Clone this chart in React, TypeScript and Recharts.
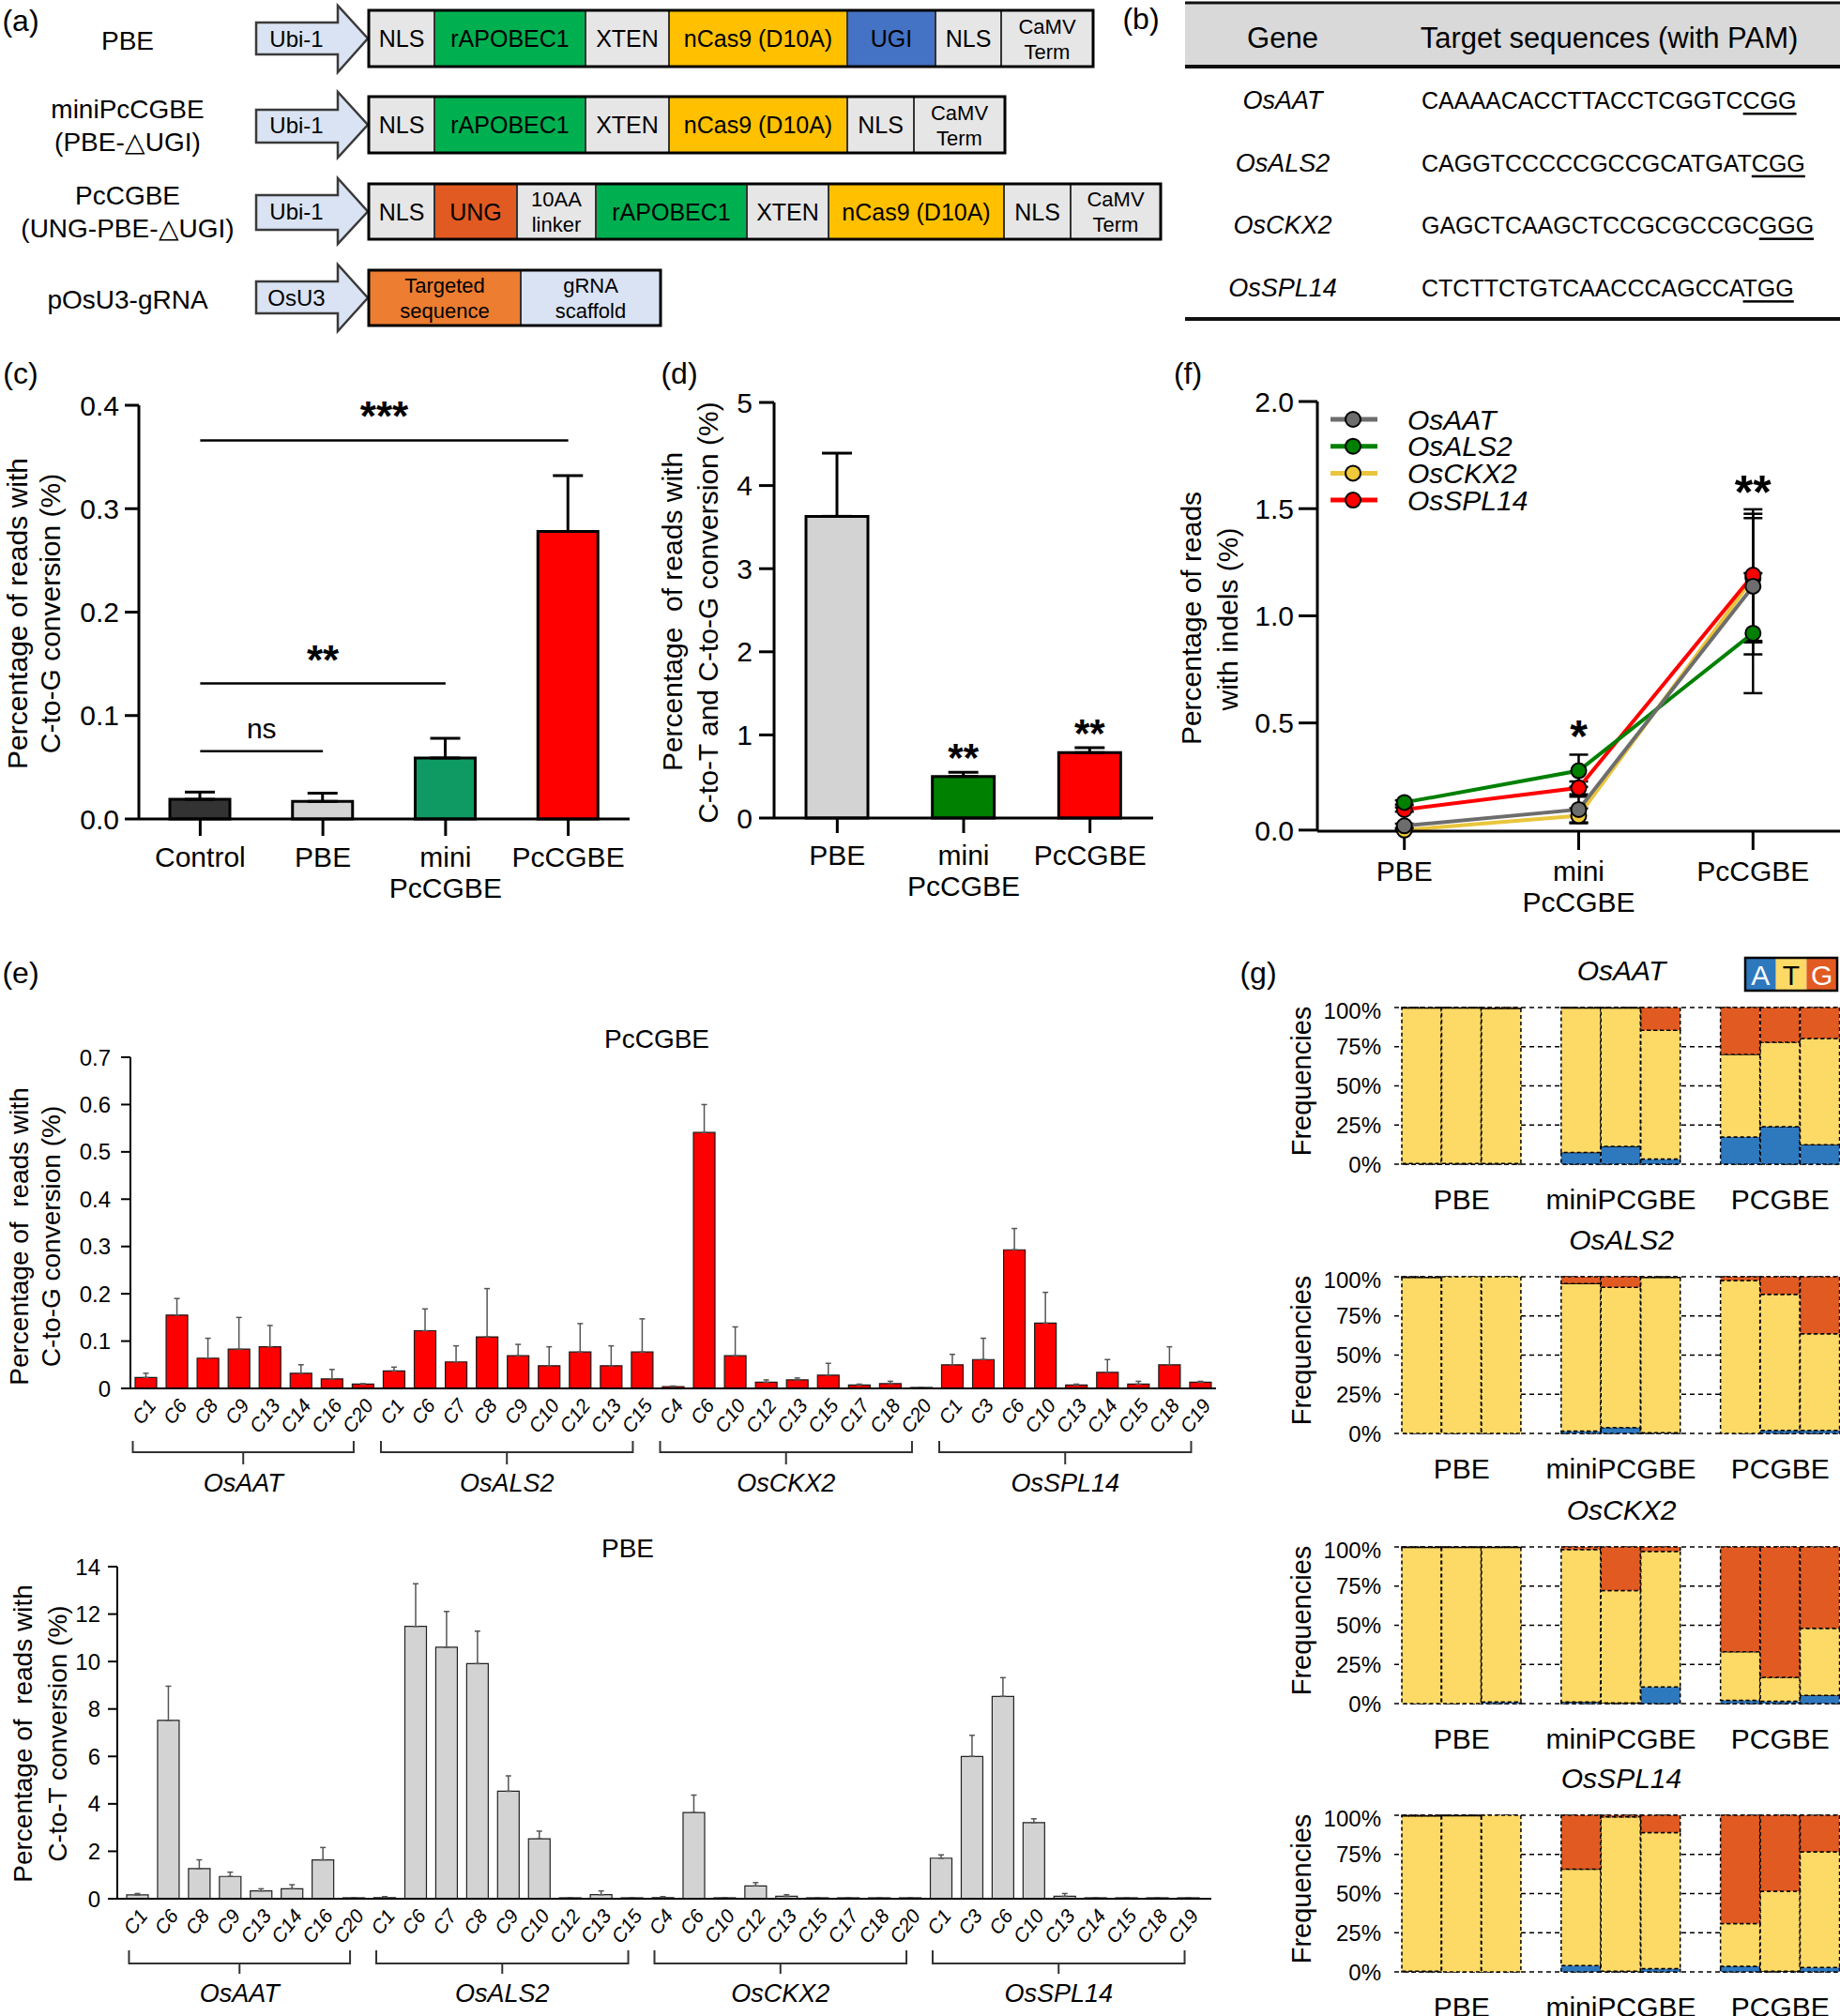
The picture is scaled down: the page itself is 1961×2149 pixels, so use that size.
import React from 'react';
import {
  BarChart, Bar, LineChart, Line, XAxis, YAxis, CartesianGrid, ErrorBar, Cell,
  ReferenceLine, ReferenceDot, LabelList, Legend,
} from 'recharts';

const FONT = 'Arial, "Liberation Sans", Helvetica, sans-serif';

// (c) C-to-G conversion, all targets pooled
const cGroups = ['Control', 'PBE', 'mini PcCGBE', 'PcCGBE'];
const cMeans = [0.019, 0.017, 0.059, 0.278];
const cSD = [0.007, 0.008, 0.019, 0.054];
const cColors = ['#333333', '#d4d4d4', '#0f9a63', '#ff0000'];

// (d) C-to-T + C-to-G
const dGroups = ['PBE', 'mini PcCGBE', 'PcCGBE'];
const dMeans = [3.63, 0.5, 0.786];
const dSD = [0.76, 0.05, 0.06];
const dSig = ['', '**', '**'];
const dColors = ['#d3d3d3', '#008000', '#ff0000'];

// (f) indels
const fGroups = ['PBE', 'mini PcCGBE', 'PcCGBE'];
const fAAT = [0.02, 0.096, 1.138];
const fAATErr = [0.01, 0.06, 0.318];
const fALS2 = [0.129, 0.277, 0.919];
const fALS2Err = [0.01, 0.075, 0.28];
const fCKX2 = [0.0, 0.067, 1.176];
const fCKX2Err = [0.005, 0.035, 0.3];
const fSPL14 = [0.096, 0.197, 1.19];
const fSPL14Err = [0.01, 0.03, 0.307];

// (e) per-site editing
const eGenes = ['OsAAT', 'OsALS2', 'OsCKX2', 'OsSPL14'];
const eSitesAAT = ['C1', 'C6', 'C8', 'C9', 'C13', 'C14', 'C16', 'C20'];
const eSitesALS2 = ['C1', 'C6', 'C7', 'C8', 'C9', 'C10', 'C12', 'C13', 'C15'];
const eSitesCKX2 = ['C4', 'C6', 'C10', 'C12', 'C13', 'C15', 'C17', 'C18', 'C20'];
const eSitesSPL14 = ['C1', 'C3', 'C6', 'C10', 'C13', 'C14', 'C15', 'C18', 'C19'];

const eCgAAT = [0.023, 0.155, 0.064, 0.083, 0.088, 0.032, 0.02, 0.009];
const eCgAATErr = [0.009, 0.035, 0.042, 0.067, 0.045, 0.018, 0.02, 0.001];
const eCgALS2 = [0.037, 0.122, 0.056, 0.109, 0.069, 0.048, 0.077, 0.048, 0.077];
const eCgALS2Err = [0.008, 0.046, 0.034, 0.102, 0.024, 0.04, 0.06, 0.042, 0.07];
const eCgCKX2 = [0.004, 0.541, 0.069, 0.013, 0.018, 0.028, 0.007, 0.01, 0.002];
const eCgCKX2Err = [0.001, 0.059, 0.061, 0.005, 0.004, 0.025, 0.002, 0.005, 0];
const eCgSPL14 = [0.05, 0.061, 0.293, 0.138, 0.007, 0.034, 0.009, 0.05, 0.013];
const eCgSPL14Err = [0.022, 0.045, 0.045, 0.065, 0.002, 0.027, 0.006, 0.038, 0.002];

const eCtAAT = [0.16, 7.52, 1.27, 0.94, 0.33, 0.42, 1.64, 0.04];
const eCtAATErr = [0.06, 1.44, 0.37, 0.18, 0.09, 0.17, 0.52, 0];
const eCtALS2 = [0.05, 11.48, 10.6, 9.91, 4.53, 2.53, 0.04, 0.17, 0.04];
const eCtALS2Err = [0.04, 1.8, 1.51, 1.37, 0.65, 0.32, 0, 0.16, 0];
const eCtCKX2 = [0.05, 3.63, 0.04, 0.54, 0.1, 0.04, 0.04, 0.04, 0.04];
const eCtCKX2Err = [0.04, 0.74, 0, 0.14, 0.07, 0, 0, 0, 0];
const eCtSPL14 = [1.71, 6.0, 8.53, 3.21, 0.1, 0.04, 0.04, 0.04, 0.04];
const eCtSPL14Err = [0.14, 0.89, 0.79, 0.16, 0.12, 0, 0, 0, 0];

const eTopTicks = [0, 0.1, 0.2, 0.3, 0.4, 0.5, 0.6, 0.7];
const eBottomTicks = [0, 2, 4, 6, 8, 10, 12, 14];

// (g) allele frequencies, bars: PBE x3, miniPCGBE x3, PCGBE x3
const gEditors = ['PBE', 'miniPCGBE', 'PCGBE'];
const gAAT_A = [0.5, 0.5, 0.5, 7.5, 11.4, 3.3, 17.4, 24, 12.5];
const gAAT_T = [99.2, 99.2, 98.9, 92.2, 88.3, 82.2, 52.7, 53.8, 67.7];
const gAAT_G = [0.3, 0.3, 0.6, 0.3, 0.3, 14.5, 29.9, 22.2, 19.8];
const gALS2_A = [0, 0, 0, 1.5, 3.8, 0.5, 0, 2, 2];
const gALS2_T = [99.5, 100, 100, 94.1, 89.4, 99, 97.6, 86.7, 61.6];
const gALS2_G = [0.5, 0, 0, 4.4, 6.8, 0.5, 2.4, 11.3, 36.4];
const gCKX2_A = [0, 0, 1, 1, 0.5, 10.7, 2.1, 1.5, 5.3];
const gCKX2_T = [99.7, 99.7, 98.7, 97.3, 71.7, 86.5, 31, 15.2, 42.8];
const gCKX2_G = [0.3, 0.3, 0.3, 1.7, 27.8, 2.8, 66.9, 83.3, 51.9];
const gSPL14_A = [0.5, 0, 0, 4, 0.5, 2.1, 3.6, 0.5, 2.8];
const gSPL14_T = [99, 99.7, 100, 61.5, 98.4, 86.8, 27.3, 51, 73.8];
const gSPL14_G = [0.5, 0.3, 0, 34.5, 1.1, 11.1, 69.1, 48.5, 23.4];

const A_COLOR = '#2e78be';
const T_COLOR = '#fdd966';
const G_COLOR = '#e05a22';

const cData = cGroups.map((name, i) => ({ name, value: cMeans[i], err: [0, cSD[i]] }));
const dData = dGroups.map((name, i) => ({ name, value: dMeans[i], err: [0, dSD[i]], sig: dSig[i] }));
const fData = fGroups.map((name, i) => ({
  name,
  aat: fAAT[i], aatErr: fAATErr[i],
  als2: fALS2[i], als2Err: fALS2Err[i],
  ckx2: fCKX2[i], ckx2Err: fCKX2Err[i],
  spl14: fSPL14[i], spl14Err: fSPL14Err[i],
}));

const fSeries = [
  { key: 'aat', name: 'OsAAT', line: '#6d6d6d', fill: '#6d6d6d' },
  { key: 'als2', name: 'OsALS2', line: '#008000', fill: '#008000' },
  { key: 'ckx2', name: 'OsCKX2', line: '#eac53c', fill: '#f0c93a' },
  { key: 'spl14', name: 'OsSPL14', line: '#ff0000', fill: '#ff0000' },
];
const fDrawOrder = ['ckx2', 'spl14', 'als2', 'aat'];

const eSites = [eSitesAAT, eSitesALS2, eSitesCKX2, eSitesSPL14];
function buildE(vals: number[][], errs: number[][]) {
  const rows: any[] = [];
  eGenes.forEach((g, gi) => {
    eSites[gi].forEach((s, si) => {
      rows.push({ key: `${g}-${s}`, value: vals[gi][si], err: [0, errs[gi][si]] });
    });
  });
  return rows;
}
const eTopData = buildE([eCgAAT, eCgALS2, eCgCKX2, eCgSPL14], [eCgAATErr, eCgALS2Err, eCgCKX2Err, eCgSPL14Err]);
const eBottomData = buildE([eCtAAT, eCtALS2, eCtCKX2, eCtSPL14], [eCtAATErr, eCtALS2Err, eCtCKX2Err, eCtSPL14Err]);

function gRows(A: number[], T: number[], G: number[]) {
  const rows: any[] = [];
  gEditors.forEach((ed, ei) => {
    [0, 1, 2].forEach((k) => {
      const i = ei * 3 + k;
      rows.push({ slot: `${ed}-${k}`, A: A[i], T: T[i], G: G[i] });
    });
    if (ei < 2) rows.push({ slot: `gap-${ei}`, A: 0, T: 0, G: 0 });
  });
  return rows;
}
const gPanels = [
  { gene: 'OsAAT', rows: gRows(gAAT_A, gAAT_T, gAAT_G), top: 1073.5 },
  { gene: 'OsALS2', rows: gRows(gALS2_A, gALS2_T, gALS2_G), top: 1360.5 },
  { gene: 'OsCKX2', rows: gRows(gCKX2_A, gCKX2_T, gCKX2_G), top: 1648.5 },
  { gene: 'OsSPL14', rows: gRows(gSPL14_A, gSPL14_T, gSPL14_G), top: 1934.5 },
];

function StackedTick({ x, y, payload, off, size }: any) {
  const words = String(payload.value).split(' ');
  return (
    <g>
      {words.map((w, i) => (
        <text key={i} x={x} y={y + off + i * 33} textAnchor="middle" dominantBaseline="central" fontSize={size} fill="#000">{w}</text>
      ))}
    </g>
  );
}

function SiteTick({ x, y, payload }: any) {
  const site = String(payload.value).split('-')[1];
  const tx = x + 6;
  const ty = y + 14;
  return (
    <text x={tx} y={ty} transform={`rotate(-52 ${tx} ${ty})`} textAnchor="end" dominantBaseline="central"
      fontSize={21} fontStyle="italic" fill="#000">{site}</text>
  );
}

function GroupTick({ x, y, payload }: any) {
  const [ed, k] = String(payload.value).split('-');
  if (ed === 'gap' || k !== '1') return <g />;
  return <text x={x} y={y + 37} textAnchor="middle" dominantBaseline="central" fontSize={30} fill="#000">{ed}</text>;
}

function FLegend() {
  return (
    <svg width={280} height={130}>
      {fSeries.map((s, i) => (
        <g key={s.key} transform={`translate(0, ${20 + i * 28.7})`}>
          <line x1={0} x2={50} y1={0} y2={0} stroke={s.line} strokeWidth={5} />
          <circle cx={24} cy={0} r={8} fill={s.fill} stroke="#000" strokeWidth={2} />
          <text x={82} y={0} dominantBaseline="central" fontSize={30} fontStyle="italic" fill="#000">{s.name}</text>
        </g>
      ))}
    </svg>
  );
}

const vText = (x: number, y: number, text: string, size: number, extra: any = {}) => (
  <text key={`${x}-${y}-${text}`} x={x} y={y} transform={`rotate(-90 ${x} ${y})`} textAnchor="middle"
    dominantBaseline="central" fontSize={size} fill="#000" style={{ whiteSpace: 'pre' }} {...extra}>{text}</text>
);

const GREY = '#e7e6e6';
const aRows = [
  {
    name: ['PBE'], promoter: 'Ubi-1', box: [11, 71], body: [24, 58], head: [6, 77],
    parts: [
      { text: ['NLS'], fill: GREY, x: [393, 463] },
      { text: ['rAPOBEC1'], fill: '#00b050', x: [463, 624] },
      { text: ['XTEN'], fill: GREY, x: [624, 713] },
      { text: ['nCas9 (D10A)'], fill: '#ffc000', x: [713, 903] },
      { text: ['UGI'], fill: '#4472c4', x: [903, 997] },
      { text: ['NLS'], fill: GREY, x: [997, 1067] },
      { text: ['CaMV', 'Term'], fill: GREY, x: [1067, 1165] },
    ],
  },
  {
    name: ['miniPcCGBE', '(PBE-\u25B3UGI)'], promoter: 'Ubi-1', box: [103, 163], body: [117, 152], head: [98, 168],
    parts: [
      { text: ['NLS'], fill: GREY, x: [393, 463] },
      { text: ['rAPOBEC1'], fill: '#00b050', x: [463, 624] },
      { text: ['XTEN'], fill: GREY, x: [624, 713] },
      { text: ['nCas9 (D10A)'], fill: '#ffc000', x: [713, 903] },
      { text: ['NLS'], fill: GREY, x: [903, 974] },
      { text: ['CaMV', 'Term'], fill: GREY, x: [974, 1071] },
    ],
  },
  {
    name: ['PcCGBE', '(UNG-PBE-\u25B3UGI)'], promoter: 'Ubi-1', box: [196, 255], body: [208, 245], head: [190, 260],
    parts: [
      { text: ['NLS'], fill: GREY, x: [393, 463] },
      { text: ['UNG'], fill: '#e15a22', x: [463, 551] },
      { text: ['10AA', 'linker'], fill: GREY, x: [551, 635] },
      { text: ['rAPOBEC1'], fill: '#00b050', x: [635, 796] },
      { text: ['XTEN'], fill: GREY, x: [796, 883] },
      { text: ['nCas9 (D10A)'], fill: '#ffc000', x: [883, 1070] },
      { text: ['NLS'], fill: GREY, x: [1070, 1141] },
      { text: ['CaMV', 'Term'], fill: GREY, x: [1141, 1237] },
    ],
  },
  {
    name: ['pOsU3-gRNA'], promoter: 'OsU3', box: [288, 347], body: [300, 334], head: [282, 353],
    parts: [
      { text: ['Targeted', 'sequence'], fill: '#ed7d31', x: [393, 555] },
      { text: ['gRNA', 'scaffold'], fill: '#dae3f3', x: [555, 704] },
    ],
  },
];

const bGenes = ['OsAAT', 'OsALS2', 'OsCKX2', 'OsSPL14'];
const bTargets = ['CAAAACACCTTACCTCGGTC', 'CAGGTCCCCCGCCGCATGAT', 'GAGCTCAAGCTCCGCGCCGC', 'CTCTTCTGTCAACCCAGCCA'];
const bPams = ['CGG', 'CGG', 'GGG', 'TGG'];

function Brackets({ left, band, yTick, yLine, yStem, yLabel, startOff, endOff }: any) {
  let idx = 0;
  return (
    <g>
      {eGenes.map((g, gi) => {
        const n = eSites[gi].length;
        const first = idx;
        idx += n;
        const x1 = left + band * (first + 0.5) + startOff;
        const x2 = left + band * (first + n - 0.5) + endOff;
        const mid = (x1 + x2) / 2;
        return (
          <g key={g}>
            <path d={`M${x1} ${yTick} V${yLine} H${x2} V${yTick}`} fill="none" stroke="#333" strokeWidth={2} />
            <line x1={mid} x2={mid} y1={yLine} y2={yStem} stroke="#333" strokeWidth={2} />
            <text x={mid} y={yLabel} textAnchor="middle" dominantBaseline="central" fontSize={27} fontStyle="italic">{g}</text>
          </g>
        );
      })}
    </g>
  );
}

function Overlay() {
  return (
    <svg width={1961} height={2149} style={{ position: 'absolute', left: 0, top: 0, pointerEvents: 'none', fontFamily: FONT }}>
      {/* panel letters */}
      {[['(a)', 22, 22], ['(b)', 1216, 20], ['(c)', 22, 398], ['(d)', 724, 398], ['(f)', 1266, 398], ['(e)', 22, 1037], ['(g)', 1341, 1037]].map(([t, x, y]: any) => (
        <text key={t} x={x} y={y} textAnchor="middle" dominantBaseline="central" fontSize={32} fill="#000">{t}</text>
      ))}

      {/* (a) constructs */}
      {aRows.map((r, ri) => {
        const mid = (r.box[0] + r.box[1]) / 2;
        const arrow = `273,${r.body[0]} 360,${r.body[0]} 360,${r.head[0]} 392,${mid} 360,${r.head[1]} 360,${r.body[1]} 273,${r.body[1]}`;
        return (
          <g key={ri}>
            {r.name.map((n, i) => (
              <text key={n} x={136} y={r.name.length === 1 ? mid + 2 : mid - 17 + i * 35} textAnchor="middle" dominantBaseline="central" fontSize={28}>{n}</text>
            ))}
            <polygon points={arrow} fill="#dae3f3" stroke="#3a3a3a" strokeWidth={2.5} />
            <text x={316} y={mid} textAnchor="middle" dominantBaseline="central" fontSize={24}>{r.promoter}</text>
            {r.parts.map((p, pi) => (
              <g key={pi}>
                <rect x={p.x[0]} y={r.box[0]} width={p.x[1] - p.x[0]} height={r.box[1] - r.box[0]} fill={p.fill} stroke="#333" strokeWidth={2} />
                {p.text.map((t, ti) => (
                  <text key={t} x={(p.x[0] + p.x[1]) / 2} y={p.text.length === 1 ? mid : mid - 13 + ti * 27}
                    textAnchor="middle" dominantBaseline="central" fontSize={p.text.length === 1 ? 25 : 22}>{t}</text>
                ))}
              </g>
            ))}
            <rect x={r.parts[0].x[0]} y={r.box[0]} width={r.parts[r.parts.length - 1].x[1] - r.parts[0].x[0]} height={r.box[1] - r.box[0]} fill="none" stroke="#000" strokeWidth={3} />
          </g>
        );
      })}

      {/* (b) table */}
      <rect x={1263} y={4} width={698} height={66} fill="#d9d9d9" />
      <line x1={1263} x2={1961} y1={3} y2={3} stroke="#111" strokeWidth={3} />
      <line x1={1263} x2={1961} y1={71} y2={71} stroke="#111" strokeWidth={4} />
      <line x1={1263} x2={1961} y1={340} y2={340} stroke="#111" strokeWidth={4} />
      <text x={1367} y={40} textAnchor="middle" dominantBaseline="central" fontSize={31}>Gene</text>
      <text x={1715} y={40} textAnchor="middle" dominantBaseline="central" fontSize={31}>Target sequences (with PAM)</text>
      {bGenes.map((g, i) => (
        <g key={g}>
          <text x={1367} y={107 + i * 66.7} textAnchor="middle" dominantBaseline="central" fontSize={27} fontStyle="italic">{g}</text>
          <text x={1515} y={107 + i * 66.7} dominantBaseline="central" fontSize={25}>
            {bTargets[i]}<tspan style={{ textDecoration: 'underline' }}>{bPams[i]}</tspan>
          </text>
        </g>
      ))}

      {/* axis titles */}
      {vText(18, 654, 'Percentage of reads with', 30)}
      {vText(53, 654, 'C-to-G conversion (%)', 30)}
      {vText(716, 652, 'Percentage  of reads with', 30)}
      {vText(754, 653, 'C-to-T and C-to-G conversion (%)', 30)}
      {vText(1269, 659, 'Percentage of reads', 30)}
      {vText(1308, 660, 'with indels (%)', 30)}
      {vText(20, 1318, 'Percentage of  reads with', 28)}
      {vText(54, 1318, 'C-to-G conversion (%)', 28)}
      {vText(24, 1848, 'Percentage of  reads with', 28)}
      {vText(61, 1848, 'C-to-T conversion (%)', 28)}

      {/* (e) titles and gene brackets */}
      <text x={700} y={1107} textAnchor="middle" dominantBaseline="central" fontSize={28}>PcCGBE</text>
      <text x={669} y={1650} textAnchor="middle" dominantBaseline="central" fontSize={28}>PBE</text>
      <Brackets left={139} band={1157 / 35} yTick={1536} yLine={1548} yStem={1561} yLabel={1581} startOff={-14} endOff={-10} />
      <Brackets left={130} band={1153 / 35} yTick={2079} yLine={2093} yStem={2104} yLabel={2125} startOff={-9} endOff={-4} />

      {/* (g) titles, y titles, base legend */}
      {gPanels.map((p) => (
        <g key={p.gene}>
          <text x={1728} y={p.top - 39} textAnchor="middle" dominantBaseline="central" fontSize={30} fontStyle="italic">{p.gene}</text>
          {vText(1387, p.top + 79, 'Frequencies', 29)}
        </g>
      ))}
      {[['A', A_COLOR, '#fff'], ['T', T_COLOR, '#000'], ['G', G_COLOR, '#fff']].map(([t, bg, fg]: any, i) => (
        <g key={t}>
          <rect x={1860 + i * 32.7} y={1021} width={32.7} height={35} fill={bg} />
          <text x={1860 + i * 32.7 + 16.3} y={1039} textAnchor="middle" dominantBaseline="central" fontSize={30} fill={fg}>{t}</text>
        </g>
      ))}
      <rect x={1860} y={1021} width={98} height={35} fill="none" stroke="#000" strokeWidth={2.5} />
    </svg>
  );
}

export default function App() {
  const axisBlack = { stroke: '#000', strokeWidth: 3 };
  return (
    <div style={{ position: 'absolute', left: 0, top: 0, width: 1961, height: 2149, overflow: 'hidden', background: '#fff', fontFamily: FONT, color: '#000' }}>
      {/* (c) */}
      <div style={{ position: 'absolute', left: 0, top: 400 }}>
        <BarChart width={672} height={585} data={cData} margin={{ top: 32, right: 1, bottom: 0, left: 0 }}>
          <XAxis dataKey="name" interval={0} height={112} tickSize={18} tickMargin={0} stroke="#000"
            axisLine={axisBlack} tickLine={axisBlack} tick={(p: any) => <StackedTick {...p} off={22} size={30} />} />
          <YAxis width={148} domain={[0, 0.4]} ticks={[0, 0.1, 0.2, 0.3, 0.4]} tickFormatter={(v: number) => v.toFixed(1)}
            tickSize={15} tickMargin={6} stroke="#000" axisLine={axisBlack} tickLine={axisBlack} tick={{ fill: '#000', fontSize: 30 }} />
          <ReferenceLine segment={[{ x: 'Control', y: 0.366 }, { x: 'PcCGBE', y: 0.366 }]} stroke="#000" strokeWidth={2.5}
            label={{ value: '***', position: 'top', offset: 10, fontSize: 44, fontWeight: 'bold', fill: '#000' }} />
          <ReferenceLine segment={[{ x: 'Control', y: 0.131 }, { x: 'mini PcCGBE', y: 0.131 }]} stroke="#000" strokeWidth={2.5}
            label={{ value: '**', position: 'top', offset: 10, fontSize: 44, fontWeight: 'bold', fill: '#000' }} />
          <ReferenceLine segment={[{ x: 'Control', y: 0.0656 }, { x: 'PBE', y: 0.0656 }]} stroke="#000" strokeWidth={2.5}
            label={{ value: 'ns', position: 'top', offset: 14, fontSize: 30, fill: '#000' }} />
          <Bar dataKey="value" barSize={64} stroke="#000" strokeWidth={3} isAnimationActive={false}>
            {cData.map((d, i) => <Cell key={d.name} fill={cColors[i]} />)}
            <ErrorBar dataKey="err" width={16} stroke="#000" strokeWidth={3} direction="y" />
          </Bar>
        </BarChart>
      </div>

      {/* (d) */}
      <div style={{ position: 'absolute', left: 685, top: 400 }}>
        <BarChart width={545} height={585} data={dData} margin={{ top: 29, right: 1, bottom: 0, left: 0 }}>
          <XAxis dataKey="name" interval={0} height={113} tickSize={16} tickMargin={0} stroke="#000"
            axisLine={axisBlack} tickLine={axisBlack} tick={(p: any) => <StackedTick {...p} off={23} size={30} />} />
          <YAxis width={140} domain={[0, 5]} ticks={[0, 1, 2, 3, 4, 5]} tickSize={16} tickMargin={7} stroke="#000"
            axisLine={axisBlack} tickLine={axisBlack} tick={{ fill: '#000', fontSize: 30 }} />
          <Bar dataKey="value" barSize={66} stroke="#000" strokeWidth={3} isAnimationActive={false}>
            {dData.map((d, i) => <Cell key={d.name} fill={dColors[i]} />)}
            <ErrorBar dataKey="err" width={16} stroke="#000" strokeWidth={3} direction="y" />
            <LabelList dataKey="sig" position="top" offset={6} fill="#000" fontSize={42} fontWeight="bold" />
          </Bar>
        </BarChart>
      </div>

      {/* (f) */}
      <div style={{ position: 'absolute', left: 1240, top: 400 }}>
        <LineChart width={721} height={598} data={fData} margin={{ top: 28, right: 0, bottom: 0, left: 0 }}>
          <XAxis dataKey="name" interval={0} height={112} padding={{ left: 92.7, right: 92.7 }} tickSize={20} tickMargin={0} stroke="#000"
            axisLine={axisBlack} tickLine={axisBlack} tick={(p: any) => <StackedTick {...p} off={22} size={30} />} />
          <YAxis width={164} domain={[0, 2]} ticks={[0, 0.5, 1, 1.5, 2]} tickFormatter={(v: number) => v.toFixed(1)}
            tickSize={20} tickMargin={5} stroke="#000" axisLine={axisBlack} tickLine={axisBlack} tick={{ fill: '#000', fontSize: 30 }} />
          <Legend layout="vertical" align="center" verticalAlign="middle" content={() => <FLegend />}
            wrapperStyle={{ left: 178, top: 27, width: 280, height: 130 }} />
          {fDrawOrder.map((k) => {
            const s = fSeries.find((q) => q.key === k)!;
            return (
              <Line key={k} dataKey={k} name={s.name} stroke={s.line} strokeWidth={4} isAnimationActive={false}
                dot={{ r: 8, fill: s.fill, stroke: '#000', strokeWidth: 2 }}>
                <ErrorBar dataKey={`${k}Err`} width={10} stroke="#000" strokeWidth={2.5} direction="y" />
              </Line>
            );
          })}
          <ReferenceDot x="mini PcCGBE" y={0.44} r={0} fill="none" stroke="none"
            label={{ value: '*', position: 'center', fontSize: 48, fontWeight: 'bold', fill: '#000' }} />
          <ReferenceDot x="PcCGBE" y={1.58} r={0} fill="none" stroke="none"
            label={{ value: '**', position: 'center', fontSize: 50, fontWeight: 'bold', fill: '#000' }} />
        </LineChart>
      </div>

      {/* (e) top: PcCGBE C-to-G */}
      <div style={{ position: 'absolute', left: 0, top: 1090 }}>
        <BarChart width={1296} height={450} data={eTopData} margin={{ top: 37, right: 0, bottom: 0, left: 0 }}>
          <XAxis dataKey="key" interval={0} height={60} tickLine={false} tickSize={0} tickMargin={0} stroke="#000"
            axisLine={{ stroke: '#000', strokeWidth: 2 }} tick={(p: any) => <SiteTick {...p} />} />
          <YAxis width={139} domain={[0, 0.7]} ticks={eTopTicks} tickFormatter={(v: number) => (v === 0 ? '0' : v.toFixed(1))}
            tickSize={10} tickMargin={11} stroke="#000" axisLine={{ stroke: '#000', strokeWidth: 2 }} tickLine={{ stroke: '#000', strokeWidth: 2 }}
            tick={{ fill: '#000', fontSize: 24 }} />
          <Bar dataKey="value" fill="#ff0000" stroke="#1a1a1a" strokeWidth={1.2} barSize={23} isAnimationActive={false}>
            <ErrorBar dataKey="err" width={3} stroke="#555" strokeWidth={1.5} direction="y" />
          </Bar>
        </BarChart>
      </div>

      {/* (e) bottom: PBE C-to-T */}
      <div style={{ position: 'absolute', left: 0, top: 1635 }}>
        <BarChart width={1292} height={449} data={eBottomData} margin={{ top: 35, right: 1, bottom: 0, left: 0 }}>
          <XAxis dataKey="key" interval={0} height={60} padding={{ left: 5, right: 8 }} tickLine={false} tickSize={0} tickMargin={0} stroke="#000"
            axisLine={{ stroke: '#000', strokeWidth: 2 }} tick={(p: any) => <SiteTick {...p} />} />
          <YAxis width={125} domain={[0, 14]} ticks={eBottomTicks} tickSize={10} tickMargin={8} stroke="#000"
            axisLine={{ stroke: '#000', strokeWidth: 2 }} tickLine={{ stroke: '#000', strokeWidth: 2 }} tick={{ fill: '#000', fontSize: 24 }} />
          <Bar dataKey="value" fill="#d3d3d3" stroke="#222" strokeWidth={1.2} barSize={23} isAnimationActive={false}>
            <ErrorBar dataKey="err" width={3} stroke="#555" strokeWidth={1.5} direction="y" />
          </Bar>
        </BarChart>
      </div>

      {/* (g) */}
      {gPanels.map((p) => (
        <div key={p.gene} style={{ position: 'absolute', left: 1315, top: p.top - 10 }}>
          <BarChart width={646} height={245} data={p.rows} margin={{ top: 10, right: 0, bottom: 0, left: 0 }} barCategoryGap={0} barGap={0}>
            <CartesianGrid vertical={false} stroke="#000" strokeDasharray="5 4" strokeWidth={1.5} />
            <XAxis dataKey="slot" interval={0} height={68} padding={{ left: 8, right: 0 }} axisLine={false} tickLine={false}
              tickSize={0} tickMargin={0} tick={(t: any) => <GroupTick {...t} />} />
            <YAxis width={171} domain={[0, 100]} ticks={[0, 25, 50, 75, 100]} tickFormatter={(v: number) => `${v}%`}
              axisLine={false} tickLine={false} tickSize={0} tickMargin={14} tick={{ fill: '#000', fontSize: 24 }} />
            <Bar dataKey="A" stackId="s" fill={A_COLOR} stroke="#000" strokeWidth={1.5} strokeDasharray="4 3" isAnimationActive={false} />
            <Bar dataKey="T" stackId="s" fill={T_COLOR} stroke="#000" strokeWidth={1.5} strokeDasharray="4 3" isAnimationActive={false} />
            <Bar dataKey="G" stackId="s" fill={G_COLOR} stroke="#000" strokeWidth={1.5} strokeDasharray="4 3" isAnimationActive={false} />
          </BarChart>
        </div>
      ))}

      <Overlay />
    </div>
  );
}
